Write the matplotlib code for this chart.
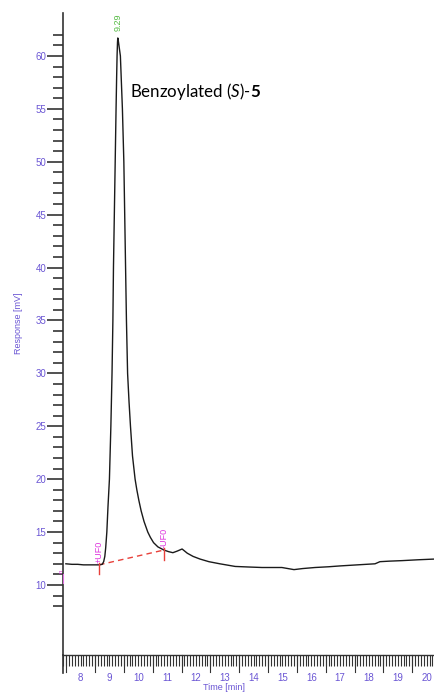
import matplotlib
matplotlib.use("Agg")
import matplotlib.pyplot as plt
from matplotlib.ticker import FixedLocator, MultipleLocator

plt.rcParams["font.family"] = ["Liberation Sans", "DejaVu Sans"]
plt.rcParams["mathtext.fontset"] = "custom"
plt.rcParams["mathtext.rm"] = "Lato"
plt.rcParams["mathtext.it"] = "Lato:italic"
plt.rcParams["mathtext.bf"] = "Lato:bold"

# Detector trace (time in min, response in mV)
time_min = [7.49, 7.7, 7.9, 8.1, 8.3, 8.5, 8.64, 8.75, 8.80, 8.84, 8.87, 8.91,
            8.95, 9.00, 9.05, 9.09, 9.12, 9.14, 9.17, 9.20, 9.23, 9.25, 9.265,
            9.28, 9.29, 9.31, 9.33, 9.38, 9.45, 9.50, 9.53, 9.56, 9.59, 9.63,
            9.68, 9.73, 9.80, 9.89, 9.95, 10.02, 10.10, 10.20, 10.33, 10.42,
            10.53, 10.68, 10.89, 11.05, 11.2, 11.35, 11.52, 11.7, 11.9, 12.14,
            12.45, 12.83, 13.36, 13.8, 14.29, 14.98, 15.4, 15.7, 16.13, 16.6,
            17.0, 17.6, 18.21, 18.38, 18.7, 19.15, 19.7, 20.29]
response_mv = [12.0, 11.95, 11.95, 11.9, 11.9, 11.9, 11.9, 11.95, 12.2, 12.7, 13.5, 15.0,
               17.4, 20.0, 25.0, 30.0, 35.0, 40.0, 45.0, 50.0, 55.0, 58.0, 60.0,
               61.3, 61.7, 61.4, 61.0, 60.0, 55.0, 50.0, 45.0, 40.0, 35.0, 30.0,
               27.3, 25.0, 22.2, 20.0, 19.0, 18.0, 17.0, 16.0, 15.0, 14.5,
               14.0, 13.6, 13.3, 13.15, 13.05, 13.2, 13.4, 13.0, 12.7, 12.45,
               12.2, 12.0, 11.75, 11.7, 11.65, 11.65, 11.45, 11.55, 11.65, 11.72,
               11.8, 11.9, 12.0, 12.2, 12.25, 12.3, 12.38, 12.45]

# Peak annotation
peak_time = 9.29
peak_label = "9.29"
peak_height = 61.7

# Integration baseline markers
ufo_times = [8.64, 10.89]
ufo_values = [11.9, 13.3]
ufo_labels = ["+UF0", "-UF0"]

x_tick_values = list(range(8, 21))
y_major_values = list(range(10, 61, 5))
y_minor_values = list(range(8, 63))

label_color = "#6a55d4"

fig = plt.figure(figsize=(4.35, 6.94), dpi=100)
ax = fig.add_axes([63 / 435, 39 / 694, 1 - 63 / 435, 642 / 694])
ax.set_xlim(7.39, 20.29)
ax.set_ylim(3.38, 64.06)

ax.plot(time_min, response_mv, color="#1a1a1a", lw=1.0, zorder=3)

# baseline between the integration markers
ax.plot(ufo_times, ufo_values, color="#e8403a", lw=1.0, ls=(0, (4, 3)), zorder=2)
for t, v, lab in zip(ufo_times, ufo_values, ufo_labels):
    ax.plot([t, t], [v - 0.9, v + 0.2], color="#e8403a", lw=1.0, zorder=4)
    ax.annotate(lab, (t, v + 0.2), xytext=(0, 0), textcoords="offset points",
                rotation=90, ha="center", va="bottom", fontsize=6.5,
                color="#dd33dd")

# small event mark at the start of the run
ax.annotate("n", (0, 11.3), xycoords=("axes fraction", "data"), xytext=(-1, 0),
            textcoords="offset points", rotation=90, ha="center", va="center",
            fontsize=4.5, color="#dd33dd", annotation_clip=False)
ax.plot([0, 0], [10.2, 11.0], transform=ax.get_yaxis_transform(),
        color="#e070e0", lw=0.8, clip_on=False, zorder=5)

ax.annotate(peak_label, (peak_time, peak_height), xytext=(0, 5),
            textcoords="offset points", rotation=90, ha="center", va="bottom",
            fontsize=6.5, color="#55bb44")

ax.text(9.70, 56.6, r"Benzoylated ($\mathit{S}$)-$\mathbf{5}$",
        fontsize=12.2, family="Lato", ha="left", va="center", color="black")

for side in ["top", "right"]:
    ax.spines[side].set_visible(False)
ax.spines["left"].set_color("#333333")
ax.spines["bottom"].set_color("#333333")
ax.spines["left"].set_linewidth(1.2)
ax.spines["bottom"].set_linewidth(1.0)
# extend the vertical axis line down through the time tick row
ax.plot([0, 0], [-0.028, 0], transform=ax.transAxes, color="#333333",
        lw=1.2, clip_on=False)

ax.yaxis.set_major_locator(FixedLocator(y_major_values))
ax.yaxis.set_minor_locator(FixedLocator(y_minor_values))
ax.tick_params(axis="y", which="major", direction="out", length=11.5, width=1.2,
               color="#333333", labelsize=7, labelcolor=label_color, pad=0.5)
ax.tick_params(axis="y", which="minor", direction="out", length=7, width=1.2,
               color="#333333")

ax.xaxis.set_major_locator(FixedLocator(x_tick_values))
ax.xaxis.set_minor_locator(MultipleLocator(0.1))
ax.tick_params(axis="x", which="major", direction="out", length=8, width=0.8,
               color="#333333", labelsize=7, labelcolor=label_color, pad=5)
ax.tick_params(axis="x", which="minor", direction="out", length=8, width=0.8,
               color="#333333")
# longer ticks at the half-minute marks
for t in [x + 0.5 for x in range(7, 21)]:
    if 7.39 < t < 20.29:
        ax.plot([t, t], [0, -0.026], transform=ax.get_xaxis_transform(),
                color="#333333", lw=0.8, clip_on=False)

fig.text(224 / 435, 1 - 688 / 694, "Time [min]", ha="center", va="center",
         fontsize=6.5, color=label_color)
fig.text(19 / 435, 1 - 323 / 694, "Response [mV]", ha="center", va="center",
         rotation=90, fontsize=6.5, color=label_color)

fig.savefig("out.png", dpi=100)
